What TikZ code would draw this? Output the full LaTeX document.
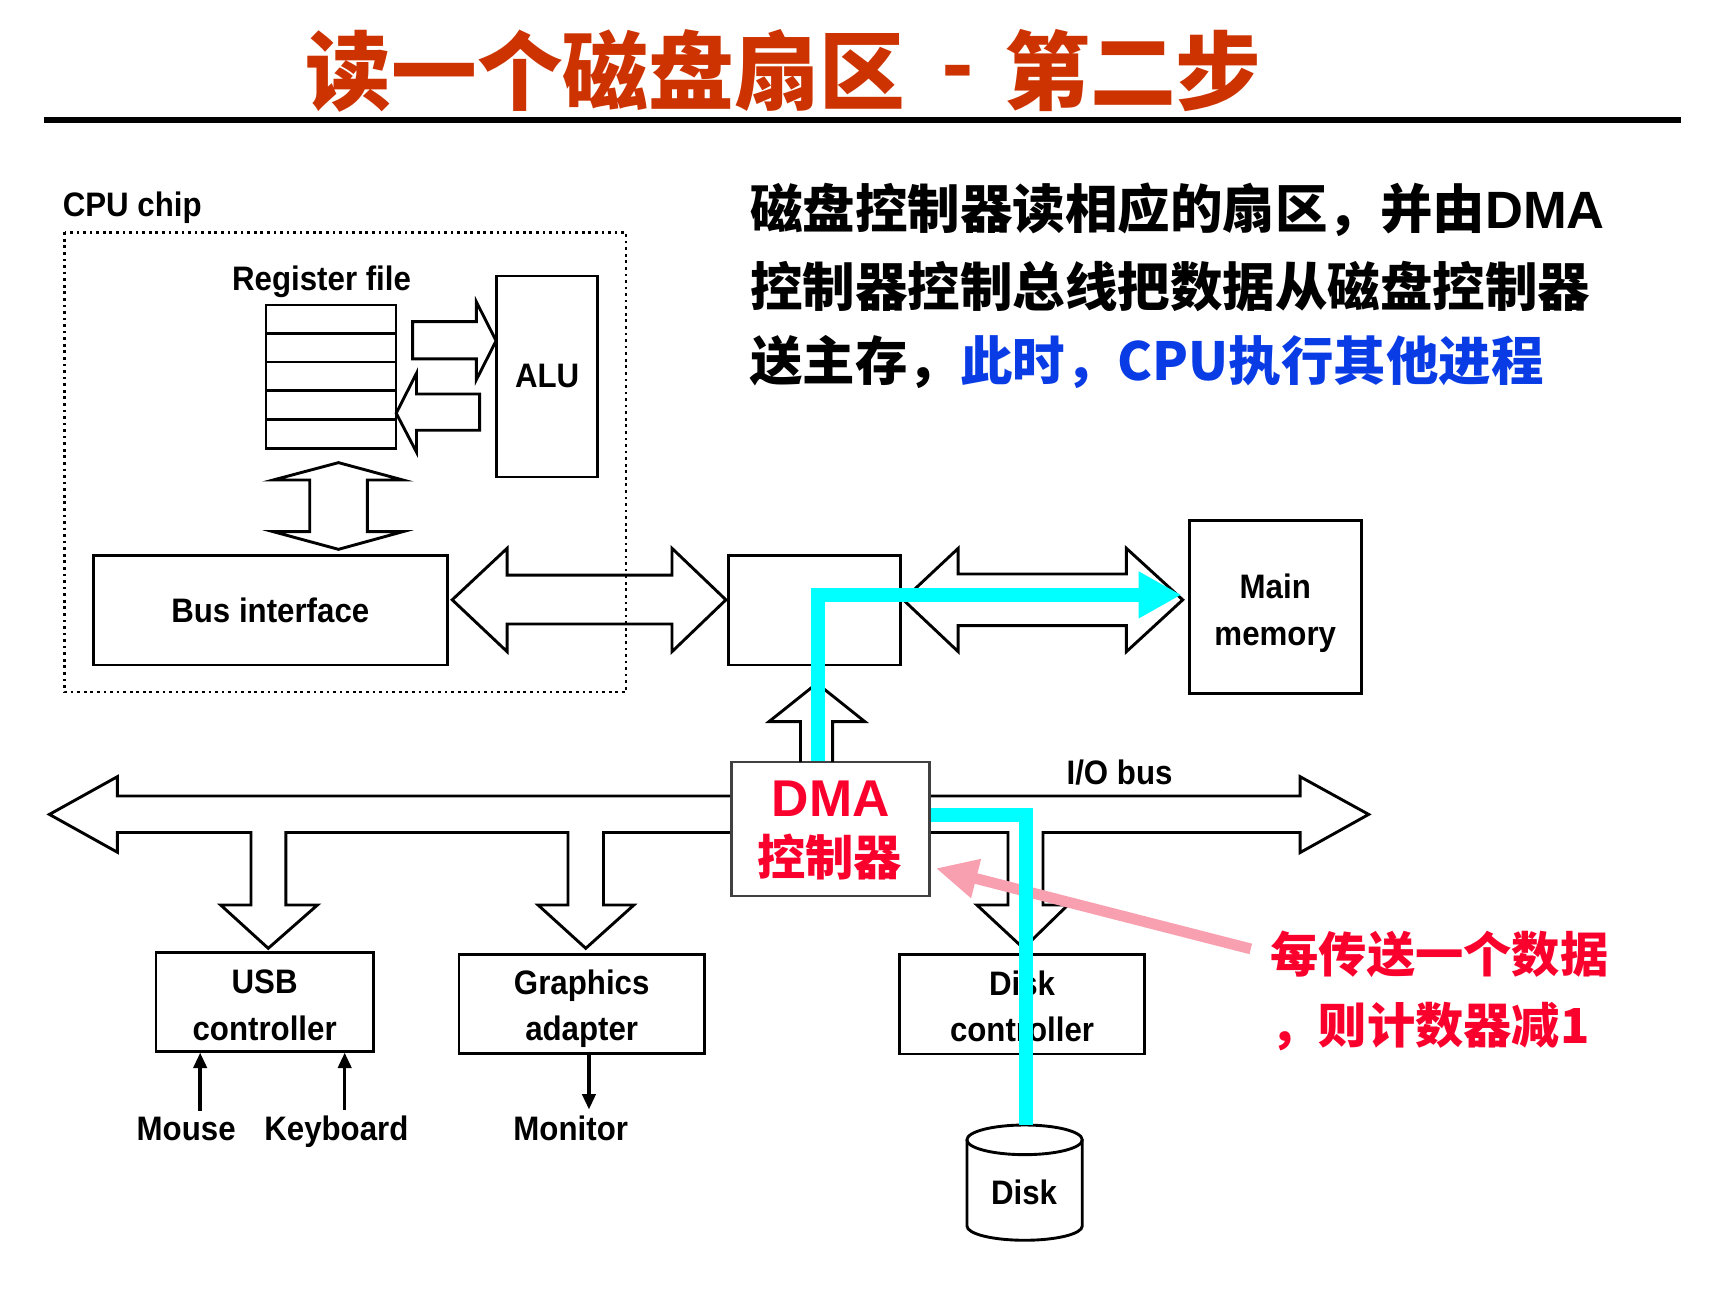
\documentclass[tikz,border=0pt]{standalone}
\usepackage{fontspec}
\setmainfont{Liberation Sans}
\newfontfamily\narrowfont{Liberation Sans}[FakeStretch=0.92]
\newfontfamily\cjk{Noto Sans CJK SC}
\usetikzlibrary{arrows.meta}
\definecolor{titlered}{RGB}{204,51,0}
\definecolor{dmared}{RGB}{250,0,45}
\definecolor{cpublue}{RGB}{10,60,230}
\definecolor{pathcyan}{RGB}{0,255,255}
\definecolor{notepink}{RGB}{248,160,176}
\newcommand{\lbl}{\narrowfont\bfseries\fontsize{8.8}{12.1}\selectfont}
\newcommand{\dmafont}{\bfseries\fontsize{13.4}{16}\selectfont}
\newcommand{\titlefont}{\cjk\bfseries\fontsize{22.2}{26}\selectfont}
\newcommand{\parafont}{\cjk\bfseries\fontsize{13.6}{19.6}\selectfont}
\newcommand{\notefont}{\cjk\bfseries\fontsize{12.5}{18}\selectfont}
\newcommand{\tstrut}[1]{\rule{0pt}{#1}}
\begin{document}
\begin{tikzpicture}[x=0.01cm, y=-0.01cm,
    box/.style={draw, line width=0.75pt, fill=white, inner sep=0pt, align=center, font=\lbl},
    lbl/.style={font=\lbl, inner sep=0pt},
    blk/.style={draw, line width=0.75pt, line join=miter},
    sarrow/.style={line width=0.9pt, -{Triangle[length=1.4mm, width=1.2mm]}},
    cyanline/.style={draw=pathcyan, line width=3.6pt, line join=miter},
    pinkarrow/.style={draw=notepink, line width=2.8pt, -{Triangle[length=3.8mm, width=3.4mm]}},
    cjkpara/.style={font=\parafont, inner sep=0pt, anchor=west},
    note/.style={font=\notefont, text=dmared, inner sep=0pt, anchor=west}]
    \useasboundingbox (0,0) rectangle (1568,1184);
    \fill[white] (0,0) rectangle (1568,1184);
    % title and rule
    \node[font=\titlefont, text=titlered, inner sep=0pt] (title) at (714,65) {读一个磁盘扇区\hspace{0.42em}\raisebox{0.1em}{-}\hspace{0.35em}第二步};
    \draw[line width=1.5pt] (40,109) -- (1532,109);
    % cpu chip: register file, alu, bus interface
    \node[lbl, anchor=base west] (chiplbl) at (56.5,197.4) {CPU chip};
    \node[lbl, anchor=base] (reglbl) at (293,265) {Register file};
    \node[box, minimum width=1.184cm, minimum height=1.306cm] (regs) at (301.6,343.2) {};
    \foreach \y in {303.7,329.8,356,382}
        \draw[line width=0.75pt] (242.4,\y) -- (360.8,\y);
    \node[box, minimum width=0.92cm, minimum height=1.83cm] (alu) at (498.5,343) {ALU};
    \draw[blk] (376,293) -- (434,293) -- (434,275) -- (452,310.5) -- (434,346) -- (434,327) -- (376,327) -- cycle;
    \draw[blk] (437,359) -- (379.5,359) -- (379.5,340) -- (361,376.5) -- (379.5,412) -- (379.5,392) -- (437,392) -- cycle;
    \draw[blk] (308.4,421.5) -- (367,437.3) -- (334.7,437.3) -- (334.7,484.4) -- (367,484.4) -- (308.4,500.5)
        -- (249,484.4) -- (282.2,484.4) -- (282.2,437.3) -- (249,437.3) -- cycle;
    \node[box, minimum width=3.225cm, minimum height=1.0cm] (busif) at (246.3,555.8) {Bus interface};
    % system bus and memory bus
    \node[box, minimum width=1.568cm, minimum height=1.0cm] (bridge) at (742,555.8) {};
    \node[box, minimum width=1.563cm, minimum height=1.576cm] (mem) at (1161.9,552.8) {\tstrut{0.346cm}Main\\memory};
    \draw[blk] (412,546.5) -- (462,499.6) -- (462,524) -- (612.3,524) -- (612.3,499.6) -- (661.4,546.5)
        -- (612.3,593.7) -- (612.3,568.5) -- (462,568.5) -- (462,593.7) -- cycle;
    \draw[blk] (823,546.5) -- (873,499.6) -- (873,523) -- (1026.3,523) -- (1026.3,499.6) -- (1077.6,546.5)
        -- (1026.3,593.7) -- (1026.3,570) -- (873,570) -- (873,593.7) -- cycle;
    \draw[densely dotted, line width=0.7pt] (58.8,211.7) rectangle (570.4,630.5);
    % i/o bus with its branches
    \draw[blk] (45,742) -- (107,707.6) -- (107,725.2) -- (1184.5,725.2) -- (1184.5,707.6) -- (1247,742)
        -- (1184.5,776.8) -- (1184.5,758.5) -- (950.3,758.5) -- (950.3,824.5) -- (973,824.5) -- (932.5,864)
        -- (890,824.5) -- (918.4,824.5) -- (918.4,758.5) -- (549.8,758.5) -- (549.8,824.5) -- (577.6,824.5)
        -- (533.7,864) -- (490.2,824.5) -- (517.5,824.5) -- (517.5,758.5) -- (260.5,758.5) -- (260.5,824.5)
        -- (289.3,824.5) -- (244.4,864) -- (201,824.5) -- (228.7,824.5) -- (228.7,758.5) -- (107,758.5)
        -- (107,776.5) -- cycle;
    \node[lbl, anchor=base] (iobus) at (1020,715) {I/O bus};
    % dma controller
    \node[box, draw=black!75, line width=0.6pt, minimum width=1.804cm, minimum height=1.22cm] (dma) at (756.6,755.3) {};
    \node[font=\dmafont, text=dmared, inner sep=0pt, anchor=base] (dmalbl) at (757,744) {DMA};
    \node[font=\notefont, text=dmared, inner sep=0pt] (dmactl) at (756,781) {控制器};
    \draw[blk] (729.3,694.3) -- (729.3,657.5) -- (700.6,657.5) -- (744.3,622.6) -- (788,657.5) -- (758.6,657.5) -- (758.6,694.3);
    % i/o devices
    \node[box, minimum width=1.978cm, minimum height=0.9cm] (usb) at (241.1,912.7) {\tstrut{0.275cm}USB\\controller};
    \node[box, minimum width=2.235cm, minimum height=0.897cm] (gfx) at (530,914.9) {\tstrut{0.305cm}Graphics\\adapter};
    \node[box, minimum width=2.237cm, minimum height=0.908cm] (diskctl) at (931.2,914.9) {\tstrut{0.265cm}Disk\\controller};
    \node[lbl, inner sep=0.5mm, anchor=base] (mouse) at (169.6,1039) {Mouse};
    \node[lbl, inner sep=0.5mm, anchor=base] (kbd) at (306.5,1039) {Keyboard};
    \node[lbl, inner sep=0.5mm, anchor=base] (monitor) at (520,1039) {Monitor};
    \coordinate (msin) at ([xshift=-5.87mm]usb.south);
    \coordinate (kbin) at ([xshift=7.29mm]usb.south);
    \coordinate (monout) at ([xshift=0.66mm]gfx.south);
    \draw[sarrow] (msin |- mouse.north) -- (msin);
    \draw[sarrow] (kbin |- kbd.north) -- (kbin);
    \draw[sarrow] (monout) -- (monout |- monitor.north);
    % disk
    \draw[line width=0.75pt, fill=white] (881,1038.5) -- (881,1117)
        arc[start angle=180, end angle=360, x radius=0.525cm, y radius=0.13cm] -- (986,1038.5);
    \draw[line width=0.75pt] (933.5,1038.5) ellipse [x radius=0.525cm, y radius=0.135cm];
    \node[lbl, anchor=base] (disk) at (933,1097.8) {Disk};
    \coordinate (disktop) at (933.5,1025);
    % counter note
    \node[note] (note1) at (1157,869) {每传送一个数据};
    \node[note] (note2) at (1157,935) {，则计数器减1};
    \coordinate (dmahit) at (852.5,791);
    \draw[pinkarrow, shorten <=1.8mm] (note1.west) -- (dmahit);
    % data path of the transfer
    \coordinate (up) at (745,542);
    \coordinate (down) at (934.6,742.5);
    \draw[cyanline, -{Triangle[length=3.9mm, width=4mm]}, shorten >=0.6mm] (up |- dma.north) -- (up) -- (up -| mem.west);
    \draw[cyanline] (down -| dma.east) -- (down) -- (down |- disktop);
    % description
    \node[cjkpara] (desc1) at (683,191) {磁盘控制器读相应的扇区，并由{\normalfont\bfseries DMA}};
    \node[cjkpara] (desc2) at (683,261) {控制器控制总线把数据从磁盘控制器};
    \node[cjkpara] (desc3) at (683,330) {送主存，\textcolor{cpublue}{此时，CPU执行其他进程}};
\end{tikzpicture}
\end{document}
